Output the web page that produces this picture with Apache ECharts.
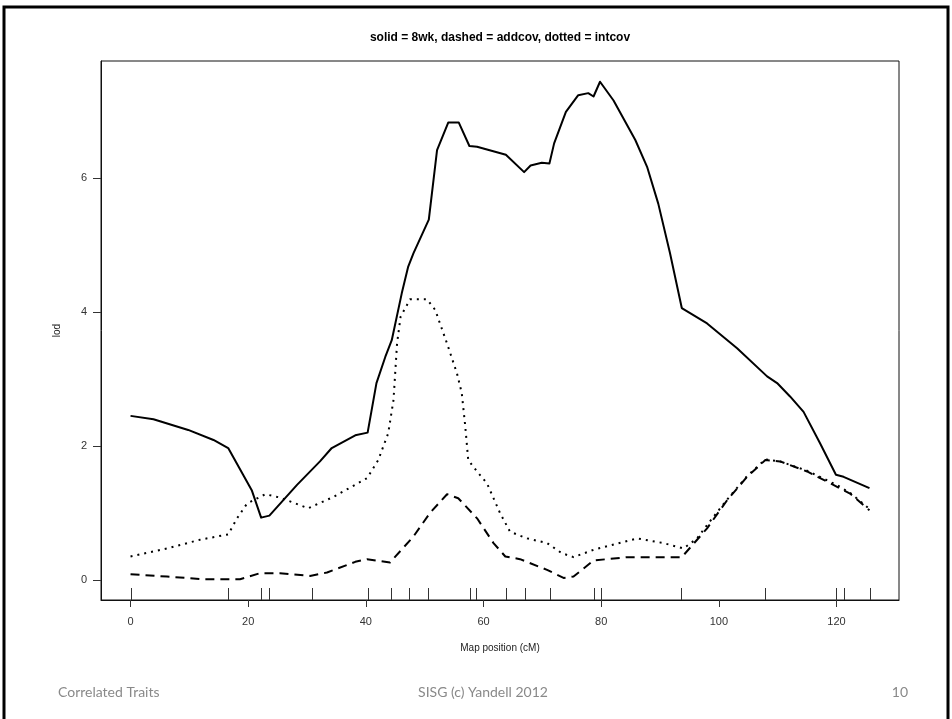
<!DOCTYPE html>
<html>
<head>
<meta charset="utf-8">
<title>LOD profile</title>
<script src="https://cdn.jsdelivr.net/npm/echarts@6/dist/echarts.min.js"></script>
<style>
  html, body { margin: 0; padding: 0; background: #fff; }
  #chart { width: 952px; height: 719px; }
</style>
</head>
<body>
<div id="chart"></div>
<script>
// Map positions (cM) and LOD scores for each scan
const solidX = [0, 3.9, 9.8, 14.1, 16.6, 20.6, 22.2, 23.6, 28.3, 32.2, 34.2, 38.2, 40.3, 41.8, 43.3, 44.4, 46.1, 47.2, 48.1, 50.7, 52.1, 54.0, 55.8, 57.6, 58.9, 63.8, 66.9, 68.0, 69.9, 71.2, 72.0, 74.0, 76.1, 77.8, 78.7, 79.8, 82.1, 85.8, 87.8, 89.7, 91.7, 93.7, 98.0, 103.1, 108.2, 109.9, 112.1, 114.4, 117.2, 119.9, 121.2, 125.6];
const solidLod = [2.45, 2.40, 2.24, 2.09, 1.97, 1.34, 0.93, 0.96, 1.42, 1.77, 1.97, 2.16, 2.20, 2.94, 3.33, 3.58, 4.28, 4.68, 4.88, 5.38, 6.42, 6.83, 6.83, 6.48, 6.47, 6.35, 6.09, 6.19, 6.23, 6.22, 6.52, 6.99, 7.24, 7.27, 7.22, 7.44, 7.16, 6.57, 6.17, 5.62, 4.88, 4.06, 3.83, 3.46, 3.04, 2.94, 2.74, 2.51, 2.04, 1.57, 1.54, 1.37];

const addcovX = [0, 6.2, 12.4, 16.6, 18.6, 22.0, 25.4, 30.5, 33.4, 38.2, 40.2, 44.1, 48.1, 50.9, 53.8, 55.7, 58.9, 61.7, 63.7, 66.2, 70.8, 73.6, 75.3, 78.7, 84.4, 93.7, 98.0, 101.4, 104.8, 107.9, 110.4, 115.0, 120.1, 122.3, 125.6];
const addcovLod = [0.085, 0.05, 0.01, 0.01, 0.01, 0.10, 0.10, 0.06, 0.11, 0.27, 0.31, 0.26, 0.65, 1.00, 1.28, 1.22, 0.92, 0.55, 0.35, 0.31, 0.15, 0.03, 0.05, 0.29, 0.34, 0.34, 0.77, 1.19, 1.54, 1.79, 1.77, 1.62, 1.39, 1.29, 1.04];

const intcovX = [0, 6.2, 11.8, 16.6, 18.1, 19.8, 22.9, 25.4, 30.2, 34.5, 40.2, 42.1, 43.8, 44.7, 45.3, 45.9, 47.5, 50.4, 51.8, 53.8, 55.5, 56.3, 56.9, 57.4, 58.9, 60.6, 62.8, 64.5, 67.4, 70.8, 73.3, 75.3, 78.7, 86.1, 90.6, 94.0, 96.3, 98.0, 101.4, 104.8, 107.9, 110.4, 115.0, 120.0, 122.3, 125.6];
const intcovLod = [0.35, 0.47, 0.60, 0.68, 0.92, 1.14, 1.28, 1.23, 1.07, 1.24, 1.52, 1.79, 2.19, 2.69, 3.53, 3.93, 4.19, 4.19, 4.03, 3.53, 3.08, 2.79, 2.29, 1.79, 1.62, 1.44, 1.00, 0.72, 0.62, 0.55, 0.40, 0.34, 0.45, 0.62, 0.55, 0.47, 0.62, 0.82, 1.20, 1.55, 1.80, 1.77, 1.63, 1.42, 1.30, 1.06];

// Genetic marker positions (rug along the x axis)
const markerPos = [0, 16.6, 22.2, 23.6, 30.8, 40.3, 44.3, 47.3, 50.6, 57.7, 58.8, 63.8, 67.0, 71.3, 78.8, 80.0, 93.6, 107.9, 119.9, 121.3, 125.7];

// Axis ticks and ranges
const xTicks = [0, 20, 40, 60, 80, 100, 120];
const yTicks = [0, 2, 4, 6];
const xRange = [-5.02, 130.62];
const yRange = [-0.3, 7.75];

const zip = (xs, ys) => xs.map((x, i) => [x, ys[i]]);

const chart = echarts.init(document.getElementById('chart'), null, { renderer: 'canvas' });

const axisFont = '"Liberation Sans", Arial, sans-serif';
const footFont = 'Lato, "Open Sans", sans-serif';

const lineSeries = (name, data, type) => ({
  name,
  type: 'line',
  data,
  symbol: 'none',
  smooth: false,
  animation: false,
  lineStyle: { color: '#000', width: 2, type, cap: 'butt', join: 'round' }
});

chart.setOption({
  backgroundColor: '#fff',
  animation: false,
  grid: {
    left: 101, top: 61, width: 798, height: 539,
    show: true, borderColor: '#111', borderWidth: 1, backgroundColor: '#fff'
  },
  xAxis: {
    type: 'value',
    min: xRange[0], max: xRange[1],
    name: 'Map position (cM)',
    nameLocation: 'middle',
    nameGap: 43,
    nameTextStyle: { fontFamily: axisFont, fontSize: 10, color: '#222' },
    axisLine: { show: true, onZero: false, lineStyle: { color: '#111', width: 1 } },
    splitLine: { show: false },
    axisTick: { show: true, inside: false, length: 7, customValues: xTicks, lineStyle: { color: '#333', width: 1 } },
    axisLabel: { customValues: xTicks, margin: 16, fontFamily: axisFont, fontSize: 11, color: '#333' }
  },
  yAxis: {
    type: 'value',
    min: yRange[0], max: yRange[1],
    name: 'lod',
    nameLocation: 'middle',
    nameGap: 39,
    nameRotate: 90,
    nameTextStyle: { fontFamily: axisFont, fontSize: 10, color: '#222' },
    axisLine: { show: true, onZero: false, lineStyle: { color: '#111', width: 1 } },
    splitLine: { show: false },
    axisTick: { show: true, inside: false, length: 8, customValues: yTicks, lineStyle: { color: '#333', width: 1 } },
    axisLabel: { customValues: yTicks, margin: 14, fontFamily: axisFont, fontSize: 11, color: '#333' }
  },
  series: [
    lineSeries('8wk', zip(solidX, solidLod), 'solid'),
    lineSeries('addcov', zip(addcovX, addcovLod), [9, 6]),
    lineSeries('intcov', zip(intcovX, intcovLod), [2, 5]),
    {
      name: 'markers',
      type: 'custom',
      animation: false,
      silent: true,
      data: markerPos.map(p => [p]),
      renderItem: (params, api) => {
        const base = api.coord([api.value(0), yRange[0]]);
        const x = Math.round(base[0]) + 0.5;
        return {
          type: 'line',
          shape: { x1: x, y1: base[1], x2: x, y2: base[1] - 12 },
          style: { stroke: '#333', lineWidth: 1 }
        };
      }
    }
  ],
  graphic: [
    {
      type: 'rect',
      silent: true,
      shape: { x: 4, y: 7, width: 944, height: 730 },
      style: { fill: 'none', stroke: '#000', lineWidth: 3 }
    },
    {
      type: 'text',
      x: 500, y: 38,
      style: {
        text: 'solid = 8wk, dashed = addcov, dotted = intcov',
        font: 'bold 12px "Liberation Sans", Arial, sans-serif',
        fill: '#000',
        align: 'center', verticalAlign: 'middle',
        textAlign: 'center', textVerticalAlign: 'middle'
      }
    },
    {
      type: 'text',
      x: 58, y: 692,
      style: {
        text: 'Correlated Traits',
        font: '14px ' + footFont,
        fill: '#898989',
        align: 'left', verticalAlign: 'middle',
        textAlign: 'left', textVerticalAlign: 'middle'
      }
    },
    {
      type: 'text',
      x: 483, y: 692,
      style: {
        text: 'SISG (c) Yandell 2012',
        font: '14px ' + footFont,
        fill: '#898989',
        align: 'center', verticalAlign: 'middle',
        textAlign: 'center', textVerticalAlign: 'middle'
      }
    },
    {
      type: 'text',
      x: 908, y: 692,
      style: {
        text: '10',
        font: '14px ' + footFont,
        fill: '#898989',
        align: 'right', verticalAlign: 'middle',
        textAlign: 'right', textVerticalAlign: 'middle'
      }
    }
  ]
});
</script>
</body>
</html>
